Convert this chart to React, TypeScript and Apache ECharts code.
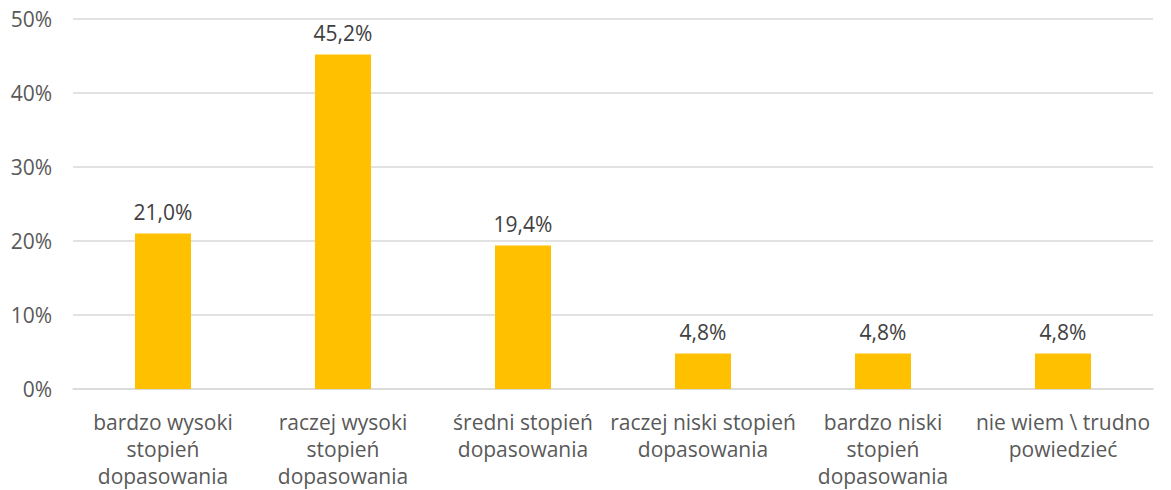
import React, { useEffect, useRef } from "react";
import * as echarts from "echarts";

const categories = [
  "bardzo wysoki\nstopień\ndopasowania",
  "raczej wysoki\nstopień\ndopasowania",
  "średni stopień\ndopasowania",
  "raczej niski stopień\ndopasowania",
  "bardzo niski\nstopień\ndopasowania",
  "nie wiem \\ trudno\npowiedzieć",
];
const values = [21.0, 45.2, 19.4, 4.8, 4.8, 4.8];
const yTicks = { min: 0, max: 50, interval: 10 };

const FONT = "'Open Sans', 'Noto Sans', sans-serif";

export default function App() {
  const ref = useRef<HTMLDivElement>(null);
  useEffect(() => {
    if (!ref.current) return;
    const chart = echarts.init(ref.current, undefined, { renderer: "svg" });
    chart.setOption({
      animation: false,
      grid: {
        left: 73,
        right: 18,
        top: 19,
        bottom: 101,
        containLabel: false,
        outerBoundsMode: "none",
      },
      xAxis: {
        type: "category",
        data: categories,
        axisLine: { show: true, lineStyle: { color: "#d9d9d9", width: 1.5 } },
        axisTick: { show: false },
        axisLabel: {
          interval: 0,
          color: "#595959",
          fontFamily: FONT,
          fontSize: 21,
          lineHeight: 27,
          margin: 19,
        },
      },
      yAxis: {
        type: "value",
        min: yTicks.min,
        max: yTicks.max,
        interval: yTicks.interval,
        axisLine: { show: false },
        axisTick: { show: false },
        splitLine: { lineStyle: { color: "#d9d9d9", width: 1.5 } },
        axisLabel: {
          formatter: "{value}%",
          color: "#595959",
          fontFamily: FONT,
          fontSize: 21,
          margin: 21,
        },
      },
      series: [
        {
          type: "bar",
          data: values,
          barWidth: 56,
          itemStyle: { color: "#FFC000" },
          label: {
            show: true,
            position: "top",
            distance: 11,
            color: "#404040",
            fontFamily: FONT,
            fontSize: 21,
            formatter: (p: any) => p.value.toFixed(1).replace(".", ",") + "%",
          },
        },
      ],
    });
    return () => chart.dispose();
  }, []);
  return (
    <div
      ref={ref}
      style={{ position: "fixed", left: 0, top: 0, width: 1171, height: 490, background: "#fff" }}
    />
  );
}
